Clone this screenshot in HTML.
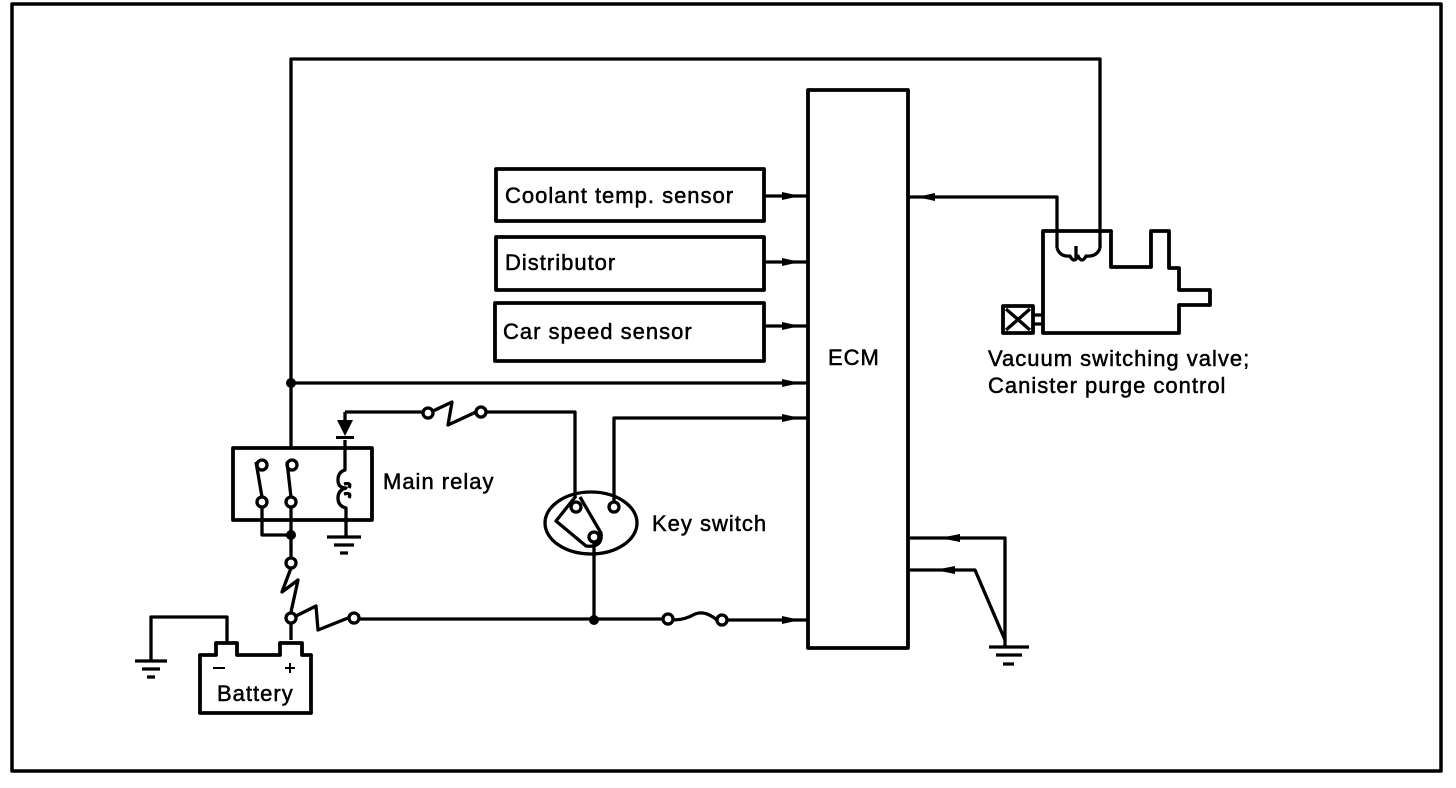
<!DOCTYPE html>
<html><head><meta charset="utf-8"><style>
html,body{margin:0;padding:0;background:#fff}
svg{display:block}
text{font-family:"Liberation Sans",sans-serif;font-size:22px;fill:#000;letter-spacing:1px;stroke:#000;stroke-width:0.5px}
</style></head><body>
<svg width="1456" height="788" viewBox="0 0 1456 788" xmlns="http://www.w3.org/2000/svg">
<g fill="none" stroke="#000" stroke-width="3.3" stroke-linejoin="round">
<rect x="12" y="4" width="1429" height="767" stroke-width="3.5"/>
<rect x="808" y="90" width="100" height="558" stroke-width="3.8"/>
<rect x="496" y="169" width="268" height="52" stroke-width="3.8"/>
<rect x="496" y="237" width="268" height="53" stroke-width="3.8"/>
<rect x="495" y="303" width="269" height="58" stroke-width="3.8"/>
<path d="M764 196H808M764 262H808M764 326H808"/>
<path d="M291 447V59H1100V248"/>
<path d="M291 383H808"/>
<path d="M908 197H1057V248"/>
<rect x="233" y="448" width="139" height="72" stroke-width="3.8"/>
<circle cx="262" cy="465" r="5"/><circle cx="292" cy="465" r="5"/>
<circle cx="262" cy="502" r="5"/><circle cx="291" cy="502" r="5"/>
<path d="M256 462L262 497M287 462L291 497"/>
<path d="M262 507V535H291M291 507V558"/>
<path d="M345 440V470Q338 472 338 480Q338 488 346 488Q338 490 338 498Q338 506 346 508V536"/>
<path d="M344 484Q352 482 349 488M344 494Q352 492 349 498"/>
<path d="M327 537H361M334 545H354M340 553H348"/>
<path d="M345 412V420"/>
<path d="M345 412H423"/>
<circle cx="428" cy="413" r="5"/><circle cx="481" cy="412" r="5"/>
<path d="M433 411L452 402L448 425L476 412"/>
<path d="M486 412H575V497"/>
<path d="M614 502V418H808"/>
<ellipse cx="591" cy="523" rx="46" ry="31"/>
<circle cx="576" cy="507" r="5"/><circle cx="614" cy="507" r="5"/><circle cx="594" cy="537" r="5"/>
<path d="M576 496L556 521L586 546Q603 548 601 533L580 497"/>
<path d="M594 542V620"/>
<circle cx="291" cy="563" r="5"/>
<path d="M291 568L282 592L298 580L291 612"/>
<circle cx="291" cy="618" r="5"/>
<path d="M296 616L316 606L318 630L348 618"/>
<circle cx="354" cy="618" r="5"/>
<path d="M359 619H663"/>
<circle cx="668" cy="619" r="5"/><circle cx="722" cy="620" r="5"/>
<path d="M673 620Q685 620 695 614Q705 610 717 620"/>
<path d="M727 620H808"/>
<path d="M291 623V640"/>
<path d="M200 713V655H216V643H237V655H280V643H302V655H311V713Z" stroke-width="3.8"/>
<path d="M227 643V617H151V660"/>
<path d="M135 661H167M142 669H160M147 677H155"/>
<path d="M213 668H225M285 668H295M290 663V673" stroke-width="2"/>
<path d="M908 538H1005V646M908 570H975L1005 640"/>
<path d="M989 647H1029M996 655H1022M1003 664H1014"/>
<path d="M1043 333V231H1111V267H1151V231H1169V268H1179V290H1210V305H1179V333Z" stroke-width="3.8"/>
<path d="M1057 248Q1060 257 1070 256Q1074 264 1078 256Q1082 264 1086 256Q1097 257 1100 248"/>
<path d="M1076 246V258"/>
<rect x="1003" y="306" width="30" height="27" stroke-width="3.8"/>
<path d="M1006 309L1030 330M1030 309L1006 330"/>
<path d="M1033 315H1043M1033 324H1043"/>
</g>
<g fill="#000">
<circle cx="291" cy="383" r="5"/><circle cx="291" cy="535" r="5"/><circle cx="594" cy="620" r="5"/>
<path d="M337 420H353L345 436Z"/><rect x="336" y="436" width="18" height="3"/>
<path d="M782 192L800 196L782 200Z"/><path d="M782 258L800 262L782 266Z"/><path d="M782 322L800 326L782 330Z"/>
<path d="M782 379L800 383L782 387Z"/><path d="M782 414L800 418L782 422Z"/><path d="M782 616L800 620L782 624Z"/>
<path d="M935 193L917 197L935 201Z"/><path d="M960 534L940 538L960 542Z"/><path d="M955 566L935 570L955 574Z"/>
</g>
<text x="505" y="203">Coolant temp. sensor</text>
<text x="505" y="270">Distributor</text>
<text x="503" y="339">Car speed sensor</text>
<text x="828" y="365">ECM</text>
<text x="383" y="489">Main relay</text>
<text x="652" y="531">Key switch</text>
<text x="217" y="701">Battery</text>
<text x="988" y="366">Vacuum switching valve;</text>
<text x="988" y="393">Canister purge control</text>
</svg>
</body></html>
